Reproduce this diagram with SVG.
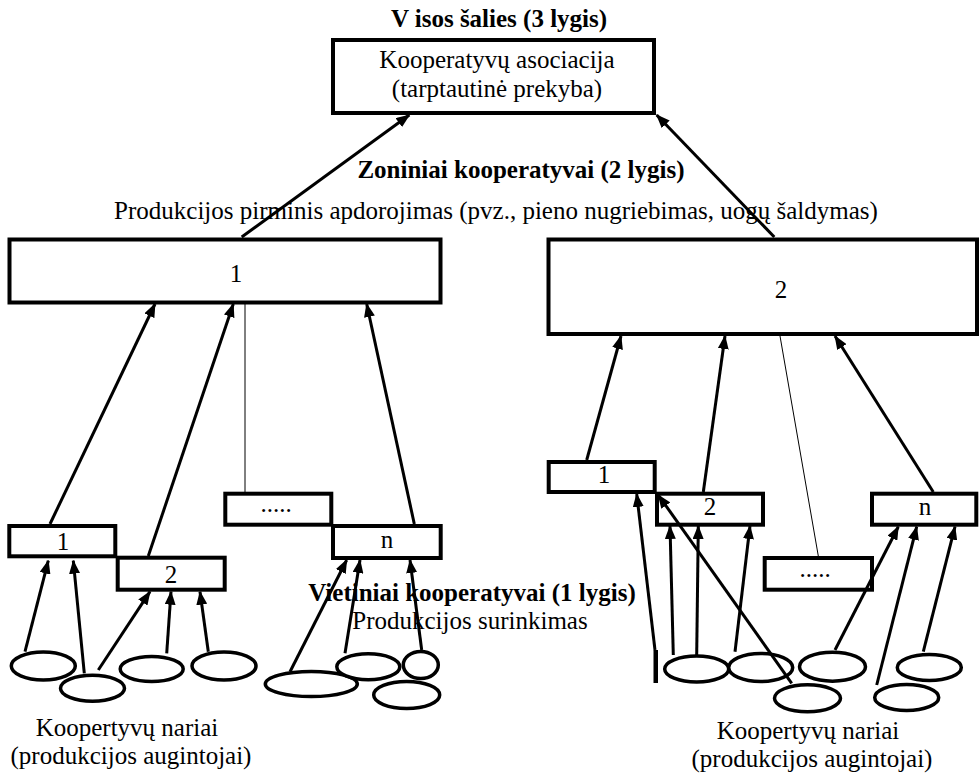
<svg xmlns="http://www.w3.org/2000/svg" width="979" height="779" viewBox="0 0 979 779">
<style>
  text { font-family: "Liberation Serif", "Times New Roman", serif; font-size: 25px; fill: #000; text-anchor: middle; }
  .b { font-weight: bold; }
  .box { fill: #fff; stroke: #000; stroke-width: 4; }
  .ell { fill: #fff; stroke: #000; stroke-width: 3.5; }
  .arr { stroke: #000; stroke-width: 3; fill: none; marker-end: url(#ah); }
  .thin { stroke: #000; stroke-width: 1; fill: none; }
</style>
<defs>
  <marker id="ah" markerUnits="userSpaceOnUse" markerWidth="14" markerHeight="11" refX="13" refY="5.5" orient="auto">
    <path d="M0,0 L14,5.5 L0,11 z" fill="#000"/>
  </marker>
</defs>
<rect width="979" height="779" fill="#fff"/>

<g id="labels">
  <text class="b" x="499" y="27">V isos šalies (3 lygis)</text>
  <text class="b" x="521" y="178">Zoniniai kooperatyvai (2 lygis)</text>
  <text x="496" y="219">Produkcijos pirminis apdorojimas (pvz., pieno nugriebimas, uogų šaldymas)</text>
  <text class="b" x="472" y="601">Vietiniai kooperatyvai (1 lygis)</text>
  <text x="470" y="629">Produkcijos surinkimas</text>
  <text x="127" y="736">Koopertyvų nariai</text>
  <text x="131" y="764">(produkcijos augintojai)</text>
  <text x="808" y="739">Koopertyvų nariai</text>
  <text x="812" y="767">(produkcijos augintojai)</text>
</g>

<g id="node-association">
  <rect class="box" x="333" y="40" width="321" height="73"/>
  <text x="497" y="68">Kooperatyvų asociacija</text>
  <text x="497" y="97">(tarptautinė prekyba)</text>
</g>

<g id="node-zone-1">
  <rect class="box" x="9.5" y="239.5" width="431" height="63"/>
  <text x="236" y="282">1</text>
</g>
<g id="node-zone-2">
  <rect class="box" x="548.5" y="239.5" width="428.5" height="94.5"/>
  <text x="781" y="298">2</text>
</g>

<g id="node-local-L1">
  <rect class="box" x="9.3" y="526" width="106" height="30.3"/>
  <text x="63" y="550">1</text>
</g>
<g id="node-local-L2">
  <rect class="box" x="117.7" y="557.7" width="107" height="32"/>
  <text x="171" y="583">2</text>
</g>
<g id="node-local-Ldots">
  <rect class="box" x="225.3" y="493.7" width="106" height="31"/>
  <text x="276" y="512">.....</text>
</g>
<g id="node-local-Ln">
  <rect class="box" x="333" y="526" width="107.7" height="32"/>
  <text x="387" y="548">n</text>
</g>

<g id="node-local-R1">
  <rect class="box" x="548.7" y="462" width="106" height="30"/>
  <text x="604" y="483">1</text>
</g>
<g id="node-local-R2">
  <rect class="box" x="657" y="493.7" width="106" height="31"/>
  <text x="710" y="515">2</text>
</g>
<g id="node-local-Rdots">
  <rect class="box" x="764.7" y="558" width="107.3" height="31.7"/>
  <text x="815" y="577">.....</text>
</g>
<g id="node-local-Rn">
  <rect class="box" x="872" y="493.7" width="104.3" height="31"/>
  <text x="925" y="515">n</text>
</g>

<g id="members-left">
  <ellipse class="ell" cx="43.3" cy="666" rx="32" ry="14"/>
  <ellipse class="ell" cx="92.5" cy="688.3" rx="32" ry="13"/>
  <ellipse class="ell" cx="151.7" cy="669" rx="31.5" ry="12.5"/>
  <ellipse class="ell" cx="224" cy="666" rx="32" ry="14"/>
  <ellipse class="ell" cx="311.3" cy="684" rx="46" ry="12.5"/>
  <ellipse class="ell" cx="368.3" cy="666.7" rx="31.5" ry="13"/>
  <ellipse class="ell" cx="406.7" cy="695" rx="33" ry="13.5"/>
  <ellipse class="ell" cx="420.8" cy="665" rx="17.5" ry="13.5"/>
</g>

<g id="members-right">
  <rect x="653.5" y="650" width="4.5" height="33" fill="#000"/>
  <ellipse class="ell" cx="696.7" cy="669" rx="32" ry="13"/>
  <ellipse class="ell" cx="760.7" cy="667.5" rx="32" ry="14"/>
  <ellipse class="ell" cx="807.5" cy="698.3" rx="33" ry="13.5"/>
  <ellipse class="ell" cx="832.5" cy="666.7" rx="33" ry="14.5"/>
  <ellipse class="ell" cx="906.7" cy="697.5" rx="32" ry="13"/>
  <ellipse class="ell" cx="929.3" cy="667.5" rx="32" ry="13"/>
</g>

<g id="connectors">
  <line class="arr" x1="241.7" y1="237" x2="409.3" y2="115"/>
  <line class="arr" x1="774.3" y1="237" x2="656.7" y2="115"/>

  <line class="arr" x1="50" y1="524" x2="155" y2="304"/>
  <line class="arr" x1="148.3" y1="556" x2="233.3" y2="304"/>
  <line class="thin" x1="245" y1="304" x2="245" y2="492"/>
  <line class="arr" x1="414.3" y1="524" x2="366.7" y2="304"/>

  <line class="arr" x1="586.7" y1="460" x2="621" y2="336"/>
  <line class="arr" x1="703.3" y1="492" x2="725" y2="336"/>
  <line class="thin" x1="818.3" y1="556" x2="780" y2="336"/>
  <line class="arr" x1="933.3" y1="492" x2="835" y2="336"/>

  <line class="arr" x1="25" y1="651.7" x2="48.3" y2="560.7"/>
  <line class="arr" x1="84.3" y1="673.3" x2="73.3" y2="560.7"/>
  <line class="arr" x1="98.3" y1="670" x2="150" y2="591.7"/>
  <line class="arr" x1="166.7" y1="653.3" x2="171" y2="591.7"/>
  <line class="arr" x1="208.3" y1="651.7" x2="200" y2="591.7"/>
  <line class="arr" x1="290" y1="671.7" x2="346.7" y2="560"/>
  <line class="arr" x1="345" y1="653.3" x2="360" y2="560"/>
  <line class="arr" x1="421.7" y1="650" x2="410" y2="560"/>

  <line class="arr" x1="655" y1="650" x2="636.7" y2="494"/>
  <line class="arr" x1="673.3" y1="655" x2="670" y2="526"/>
  <line class="arr" x1="696.7" y1="655" x2="698.3" y2="526"/>
  <line class="arr" x1="735" y1="651.7" x2="750" y2="526"/>
  <line class="arr" x1="791.7" y1="683.3" x2="658.3" y2="495"/>
  <line class="arr" x1="835" y1="650" x2="898.3" y2="526.7"/>
  <line class="arr" x1="876.7" y1="685" x2="916.7" y2="526.7"/>
  <line class="arr" x1="923.3" y1="651.7" x2="955" y2="526.7"/>
</g>
</svg>
